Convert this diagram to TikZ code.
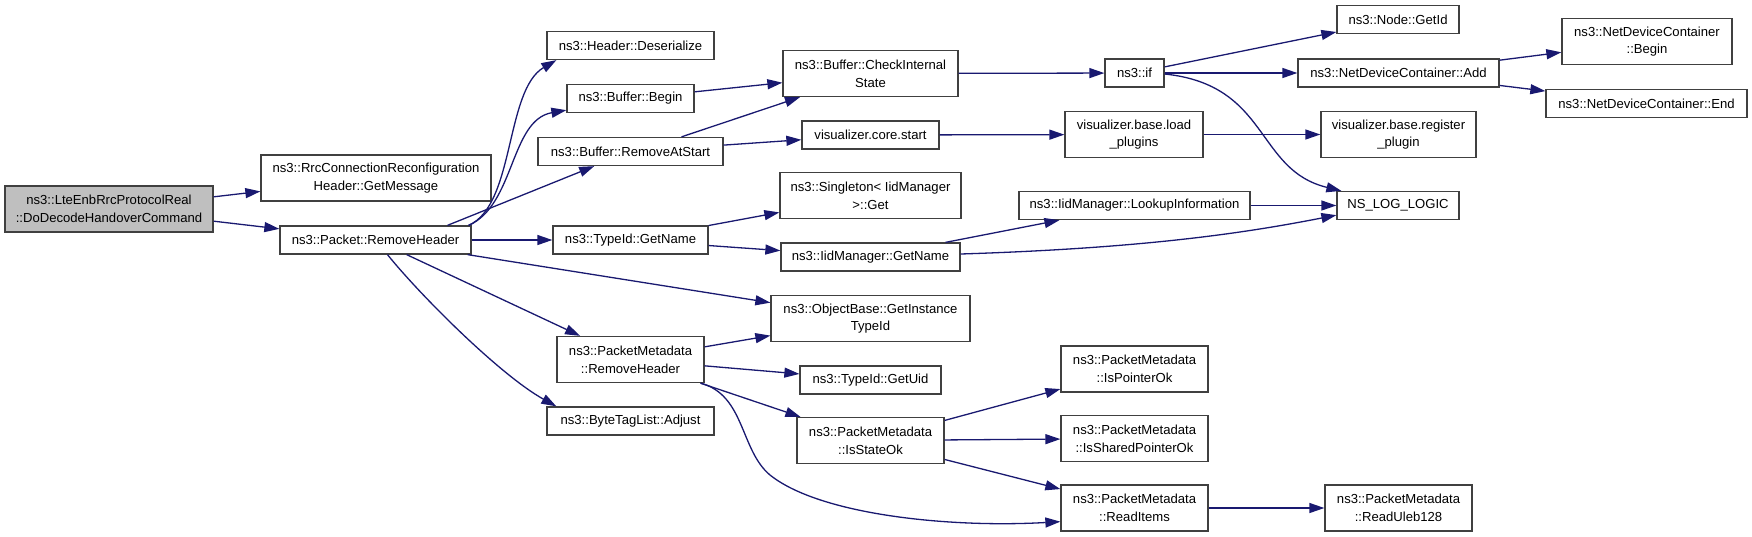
\documentclass[tikz,border=0pt]{standalone}
\usepackage{fontspec}
\setmainfont{Liberation Sans}
\usetikzlibrary{arrows.meta}
\definecolor{navyline}{HTML}{191970}
\definecolor{boxline}{HTML}{404040}
\definecolor{rootfill}{HTML}{BFBFBF}

\begin{document}
\begin{tikzpicture}[x=1pt, y=-1pt, >={Triangle[length=15pt,width=10pt]},
      every node/.append style={font=\fontsize{13.1pt}{17.7pt}\selectfont,align=center},
      call/.style={->,draw=navyline,fill=none,line width=1.3pt}]
    \tikzstyle{fn} = [draw=boxline,line width=1.3pt,fill=white,inner sep=0pt]
    \useasboundingbox (0,0) rectangle (1752,536);
    \node (root) [fn,fill=rootfill,minimum width=208pt,minimum height=46pt] at (109,209) {ns3::LteEnbRrcProtocolReal\\::DoDecodeHandoverCommand};
    \node (rrcmsg) [fn,minimum width=230pt,minimum height=46pt] at (376,178) {ns3::RrcConnectionReconfiguration\\Header::GetMessage};
    \node (rmhdr) [fn,minimum width=191pt,minimum height=28pt] at (375.5,240) {ns3::Packet::RemoveHeader};
    \node (deser) [fn,minimum width=167pt,minimum height=28pt] at (630.5,45.5) {ns3::Header::Deserialize};
    \node (bbegin) [fn,minimum width=127pt,minimum height=28pt] at (630.5,98.5) {ns3::Buffer::Begin};
    \node (rmstart) [fn,minimum width=185pt,minimum height=28pt] at (630.5,151.5) {ns3::Buffer::RemoveAtStart};
    \node (tname) [fn,minimum width=155pt,minimum height=28pt] at (630.5,240) {ns3::TypeId::GetName};
    \node (pmrm) [fn,minimum width=147pt,minimum height=46pt] at (630.5,359.5) {ns3::PacketMetadata\\::RemoveHeader};
    \node (adjust) [fn,minimum width=167pt,minimum height=28pt] at (630.5,421) {ns3::ByteTagList::Adjust};
    \node (check) [fn,minimum width=175pt,minimum height=46pt] at (870.5,73.5) {ns3::Buffer::CheckInternal\\State};
    \node (vstart) [fn,minimum width=137pt,minimum height=28pt] at (870.5,135) {visualizer.core.start};
    \node (single) [fn,minimum width=181pt,minimum height=46pt] at (870.5,195.5) {ns3::Singleton< IidManager\\ >::Get};
    \node (iname) [fn,minimum width=179pt,minimum height=28pt] at (870.5,257) {ns3::IidManager::GetName};
    \node (inst) [fn,minimum width=199pt,minimum height=46pt] at (870.5,318.5) {ns3::ObjectBase::GetInstance\\TypeId};
    \node (uid) [fn,minimum width=141pt,minimum height=28pt] at (870.5,380) {ns3::TypeId::GetUid};
    \node (stok) [fn,minimum width=147pt,minimum height=46pt] at (870.5,440.5) {ns3::PacketMetadata\\::IsStateOk};
    \node (nsif) [fn,minimum width=59pt,minimum height=28pt] at (1134.5,73) {ns3::if};
    \node (load) [fn,minimum width=138pt,minimum height=46pt] at (1134,134.5) {visualizer.base.load\\\_plugins};
    \node (lookup) [fn,minimum width=231pt,minimum height=28pt] at (1134.5,205.5) {ns3::IidManager::LookupInformation};
    \node (ptrok) [fn,minimum width=147pt,minimum height=46pt] at (1134.5,369) {ns3::PacketMetadata\\::IsPointerOk};
    \node (shptr) [fn,minimum width=147pt,minimum height=46pt] at (1134.5,438.5) {ns3::PacketMetadata\\::IsSharedPointerOk};
    \node (readit) [fn,minimum width=147pt,minimum height=46pt] at (1134.5,508) {ns3::PacketMetadata\\::ReadItems};
    \node (getid) [fn,minimum width=122pt,minimum height=28pt] at (1398,19.5) {ns3::Node::GetId};
    \node (add) [fn,minimum width=201pt,minimum height=28pt] at (1398.5,73) {ns3::NetDeviceContainer::Add};
    \node (reg) [fn,minimum width=155pt,minimum height=46pt] at (1398.5,134.5) {visualizer.base.register\\\_plugin};
    \node (nslog) [fn,minimum width=122pt,minimum height=28pt] at (1398,205.5) {NS\_LOG\_LOGIC};
    \node (uleb) [fn,minimum width=147pt,minimum height=46pt] at (1398.5,508) {ns3::PacketMetadata\\::ReadUleb128};
    \node (ndcbegin) [fn,minimum width=170pt,minimum height=46pt] at (1647,41.5) {ns3::NetDeviceContainer\\::Begin};
    \node (ndcend) [fn,minimum width=201pt,minimum height=28pt] at (1646.5,103.5) {ns3::NetDeviceContainer::End};
    \draw[call] (root) -- (rrcmsg);
    \draw[call] (root) -- (rmhdr);
    \draw[call] ([xshift=-3pt]rmhdr.north east) .. controls (515,205) and (505,90) .. ([xshift=10pt]deser.south west);
    \draw[call] ([xshift=-3pt]rmhdr.north east) .. controls (515,205) and (510,120) .. ([yshift=3pt]bbegin.south west);
    \draw[call] ([xshift=72pt]rmhdr.north) -- (rmstart);
    \draw[call] (rmhdr) -- (tname);
    \draw[call] (rmhdr) -- (inst);
    \draw[call] (rmhdr) -- (pmrm);
    \draw[call] ([xshift=12pt]rmhdr.south) .. controls (420,295) and (500,375) .. ([xshift=10pt]adjust.north west);
    \draw[call] (bbegin) -- (check);
    \draw[call] ([xshift=51pt]rmstart.north) -- (check);
    \draw[call] (rmstart) -- (vstart);
    \draw[call] (check) -- (nsif);
    \draw[call] (vstart) -- (load);
    \draw[call] (load) -- (reg);
    \draw[call] (tname) -- (single);
    \draw[call] (tname) -- (iname);
    \draw[call] (iname) -- (lookup);
    \draw[call] ([yshift=3pt]iname.east) .. controls (1150,248) and (1250,232) .. ([yshift=5pt]nslog.south west);
    \draw[call] (lookup) -- (nslog);
    \draw[call] (nsif) -- (getid);
    \draw[call] (nsif) -- (add);
    \draw[call] ([yshift=-1pt]nsif.east) .. controls (1270,85) and (1255,170) .. ([xshift=5pt]nslog.north west);
    \draw[call] (add) -- (ndcbegin);
    \draw[call] (add) -- (ndcend);
    \draw[call] (pmrm) -- (inst);
    \draw[call] (pmrm) -- (uid);
    \draw[call] (pmrm) -- (stok);
    \draw[call] ([xshift=-4pt]pmrm.south east) .. controls (745,395) and (740,450) .. (770,475)
      .. controls (820,515) and (950,528) .. ([yshift=10pt]readit.south west);
    \draw[call] (stok) -- (ptrok);
    \draw[call] (stok) -- (shptr);
    \draw[call] (stok) -- (readit);
    \draw[call] (readit) -- (uleb);
  \end{tikzpicture}
\end{document}
